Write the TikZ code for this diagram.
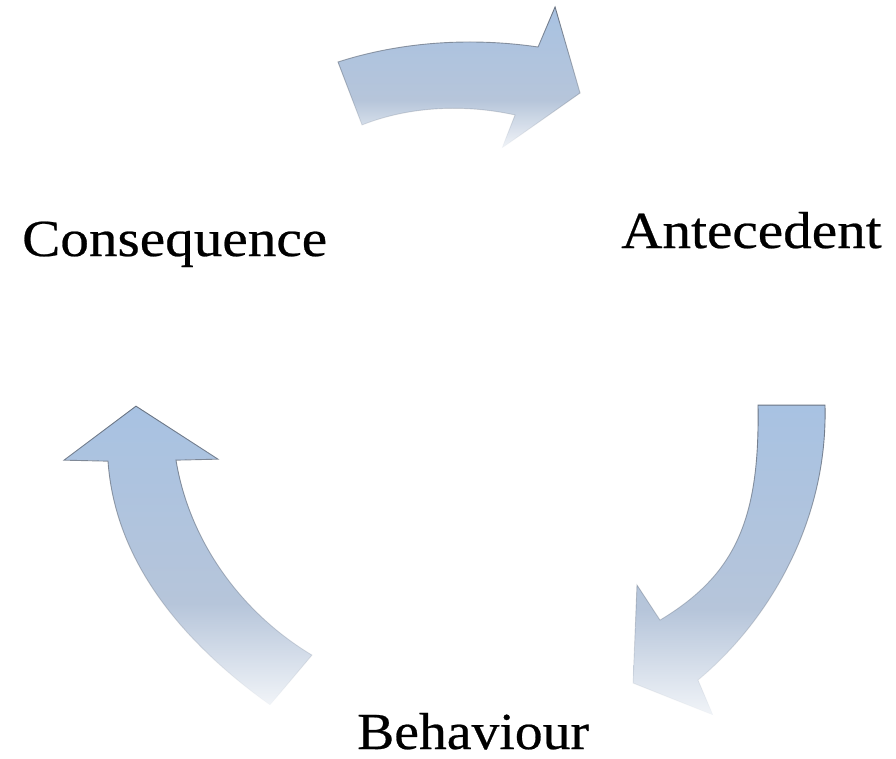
\documentclass[tikz,border=0pt]{standalone}
\usepackage{fontspec}
\setmainfont[FakeBold=0.45]{Liberation Serif}
\usetikzlibrary{fadings}
\definecolor{arrowtop}{RGB}{168,194,226}
\definecolor{arrowmid}{RGB}{182,197,218}
\definecolor{arrowbot}{RGB}{241,244,248}
\definecolor{arrowedge}{RGB}{105,115,130}
% vertical fill: blue for most of the height, fading out towards the bottom
\pgfdeclareverticalshading{arrowshade}{100bp}{%
  color(0bp)=(arrowbot); color(25bp)=(arrowbot); color(42bp)=(arrowmid);
  color(75bp)=(arrowtop); color(100bp)=(arrowtop)}
\tikzset{
  blockarrow/.style={shading=arrowshade, draw=none},
  arrowrim/.style={draw=arrowedge, line width=0.9pt, line join=miter, path fading=south},
  stage/.style={inner sep=0pt, text depth=0pt, font=\fontsize{52}{60}\selectfont}
}
\newcommand{\wide}[2][1.1]{\scalebox{#1}[1]{#2}}
\begin{document}
\begin{tikzpicture}[x=1pt, y=-1pt]
\useasboundingbox (0,0) rectangle (896,759);

% upper arrow: Consequence -> Antecedent
\def\shapetop{(338,62) .. controls (400,42) and (470,37) .. (538,47) -- (555,7) -- (580,93) -- (502,148) -- (515,115) .. controls (465,104) and (410,106) .. (362,125) -- cycle}
\path[blockarrow] \shapetop;
\path[arrowrim] \shapetop;

% right arrow: Antecedent -> Behaviour
\def\shaperight{(758,405) -- (825,405) .. controls (828,520) and (770,620) .. (698,680) -- (713,715) -- (633,683) -- (637,585) -- (660,620) .. controls (735,575) and (760,520) .. (758,405) -- cycle}
\path[blockarrow] \shaperight;
\path[arrowrim] \shaperight;

% left arrow: Behaviour -> Consequence
\def\shapeleft{(136,406) -- (218,459) -- (176,460) .. controls (190,545) and (245,615) .. (312,655) -- (270,705) .. controls (180,640) and (115,560) .. (108,461) -- (64,460) -- cycle}
\path[blockarrow] \shapeleft;
\path[arrowrim] \shapeleft;

% stage labels
\node[stage, anchor=base west] (conseq) at (22,256) {\wide{Consequence}};
\node[stage, anchor=base west] (antec) at (621,248) {\wide{Antecedent}};
\node[stage, anchor=base west] (behav) at (357,749) {\wide[1.07]{Behaviour}};
\end{tikzpicture}
\end{document}
